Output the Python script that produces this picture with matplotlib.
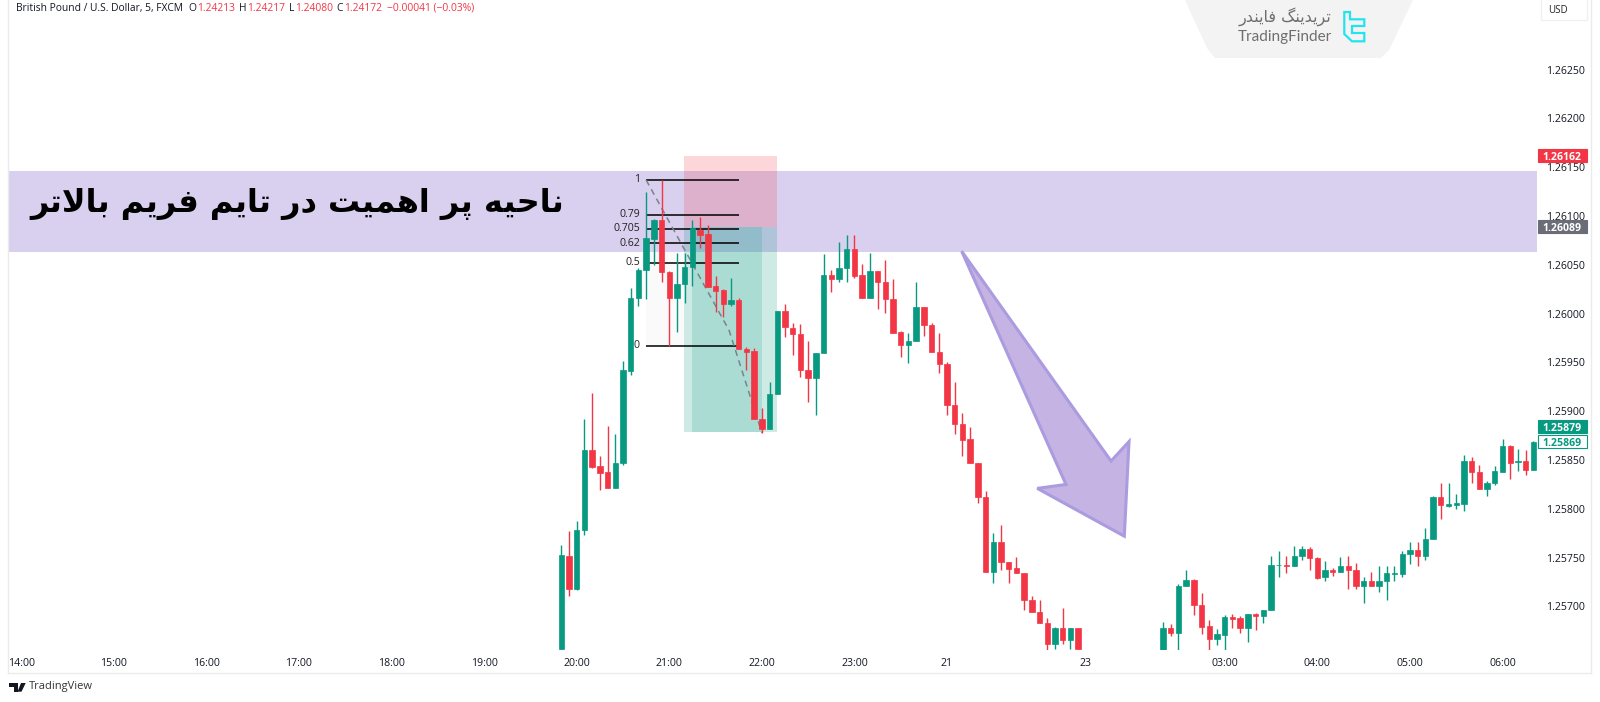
# -*- coding: utf-8 -*-
"""
GBP/USD 5 minute candles with a marked higher time frame zone
"""

import numpy as np
import matplotlib
matplotlib.use('Agg')
import matplotlib.pyplot as plt
from matplotlib.patches import Polygon, Rectangle
from matplotlib.transforms import blended_transform_factory

# Chart data

FIRST_SESSION_BARS = list(range(-2, 66))
SECOND_SESSION_BARS = list(range(76, 125))

OPENS = [
    1.25656, 1.25752, 1.25718, 1.25778, 1.25860, 1.25844, 1.25838, 1.25821,
    1.25847, 1.25941, 1.26016, 1.26045, 1.26077, 1.26096, 1.26043, 1.26016,
    1.26030, 1.26048, 1.26086, 1.26082, 1.26028, 1.26024, 1.26010, 1.26014,
    1.25964, 1.25962, 1.25892, 1.25882, 1.25918, 1.26003, 1.25985, 1.25979,
    1.25942, 1.25934, 1.25960, 1.26040, 1.26036, 1.26047, 1.26066, 1.26040,
    1.26016, 1.26044, 1.26032, 1.26015, 1.25981, 1.25968, 1.25972, 1.26007,
    1.25988, 1.25961, 1.25948, 1.25906, 1.25887, 1.25872, 1.25847, 1.25812,
    1.25735, 1.25766, 1.25746, 1.25739, 1.25734, 1.25707, 1.25694, 1.25683,
    1.25662, 1.25678, 1.25666, 1.25678,
    1.25655, 1.25678, 1.25673, 1.25721, 1.25727, 1.25702, 1.25680, 1.25667,
    1.25671, 1.25689, 1.25688, 1.25678, 1.25692, 1.25690, 1.25696, 1.25742,
    1.25743, 1.25741, 1.25752, 1.25759, 1.25750, 1.25730, 1.25737, 1.25735,
    1.25741, 1.25737, 1.25721, 1.25726, 1.25721, 1.25726, 1.25733, 1.25733,
    1.25754, 1.25758, 1.25752, 1.25769, 1.25812, 1.25803, 1.25804, 1.25805,
    1.25849, 1.25838, 1.25820, 1.25826, 1.25838, 1.25864, 1.25848, 1.25849,
    1.25840]
HIGHS = [
    1.25763, 1.25777, 1.25788, 1.25892, 1.25919, 1.25854, 1.25885, 1.25877,
    1.25952, 1.26026, 1.26047, 1.26125, 1.26097, 1.26137, 1.26044, 1.26062,
    1.26062, 1.26096, 1.26099, 1.26091, 1.26039, 1.26025, 1.26037, 1.26016,
    1.25966, 1.25965, 1.25903, 1.25930, 1.26003, 1.26010, 1.25990, 1.25989,
    1.25972, 1.25960, 1.26061, 1.26045, 1.26073, 1.26081, 1.26081, 1.26051,
    1.26062, 1.26044, 1.26055, 1.26036, 1.25982, 1.25980, 1.26032, 1.26007,
    1.25990, 1.25980, 1.25950, 1.25930, 1.25898, 1.25884, 1.25847, 1.25818,
    1.25775, 1.25783, 1.25746, 1.25751, 1.25734, 1.25711, 1.25707, 1.25688,
    1.25679, 1.25698, 1.25678, 1.25678,
    1.25684, 1.25682, 1.25723, 1.25737, 1.25728, 1.25714, 1.25686, 1.25677,
    1.25691, 1.25692, 1.25690, 1.25692, 1.25693, 1.25696, 1.25752, 1.25757,
    1.25752, 1.25762, 1.25762, 1.25761, 1.25751, 1.25747, 1.25739, 1.25751,
    1.25752, 1.25745, 1.25730, 1.25735, 1.25741, 1.25741, 1.25741, 1.25757,
    1.25766, 1.25766, 1.25780, 1.25813, 1.25827, 1.25826, 1.25815, 1.25855,
    1.25853, 1.25845, 1.25829, 1.25844, 1.25872, 1.25865, 1.25861, 1.25860,
    1.25870]
LOWS = [
    1.25656, 1.25711, 1.25717, 1.25773, 1.25842, 1.25819, 1.25821, 1.25821,
    1.25845, 1.25937, 1.26008, 1.26015, 1.26050, 1.26032, 1.25967, 1.25981,
    1.26011, 1.26028, 1.26067, 1.26027, 1.26002, 1.25997, 1.26008, 1.25964,
    1.25942, 1.25892, 1.25878, 1.25882, 1.25918, 1.25976, 1.25958, 1.25935,
    1.25909, 1.25896, 1.25960, 1.26022, 1.26032, 1.26032, 1.26037, 1.26016,
    1.26016, 1.26005, 1.26001, 1.25980, 1.25956, 1.25949, 1.25972, 1.25977,
    1.25961, 1.25939, 1.25896, 1.25877, 1.25854, 1.25847, 1.25806, 1.25735,
    1.25724, 1.25737, 1.25724, 1.25734, 1.25696, 1.25694, 1.25683, 1.25655,
    1.25656, 1.25662, 1.25656, 1.25656,
    1.25655, 1.25670, 1.25655, 1.25721, 1.25691, 1.25672, 1.25655, 1.25661,
    1.25655, 1.25678, 1.25673, 1.25664, 1.25676, 1.25683, 1.25696, 1.25730,
    1.25734, 1.25741, 1.25748, 1.25737, 1.25728, 1.25726, 1.25731, 1.25735,
    1.25718, 1.25718, 1.25704, 1.25721, 1.25715, 1.25707, 1.25726, 1.25730,
    1.25744, 1.25741, 1.25748, 1.25769, 1.25790, 1.25802, 1.25800, 1.25798,
    1.25826, 1.25820, 1.25813, 1.25824, 1.25838, 1.25831, 1.25839, 1.25835,
    1.25840]
CLOSES = [
    1.25753, 1.25718, 1.25778, 1.25860, 1.25843, 1.25837, 1.25821, 1.25847,
    1.25942, 1.26016, 1.26045, 1.26078, 1.26096, 1.26043, 1.26016, 1.26030,
    1.26048, 1.26088, 1.26081, 1.26027, 1.26023, 1.26010, 1.26014, 1.25964,
    1.25961, 1.25892, 1.25882, 1.25918, 1.26003, 1.25986, 1.25979, 1.25942,
    1.25934, 1.25960, 1.26040, 1.26036, 1.26047, 1.26066, 1.26039, 1.26016,
    1.26044, 1.26032, 1.26015, 1.25980, 1.25968, 1.25972, 1.26007, 1.25988,
    1.25961, 1.25948, 1.25906, 1.25887, 1.25871, 1.25847, 1.25812, 1.25735,
    1.25766, 1.25746, 1.25738, 1.25734, 1.25707, 1.25694, 1.25683, 1.25662,
    1.25678, 1.25666, 1.25678, 1.25656,
    1.25678, 1.25673, 1.25721, 1.25727, 1.25702, 1.25679, 1.25667, 1.25672,
    1.25689, 1.25687, 1.25678, 1.25692, 1.25690, 1.25696, 1.25742, 1.25743,
    1.25741, 1.25752, 1.25759, 1.25750, 1.25729, 1.25737, 1.25735, 1.25741,
    1.25737, 1.25721, 1.25726, 1.25721, 1.25726, 1.25734, 1.25734, 1.25754,
    1.25758, 1.25752, 1.25769, 1.25812, 1.25804, 1.25805, 1.25806, 1.25849,
    1.25838, 1.25820, 1.25826, 1.25839, 1.25864, 1.25847, 1.25849, 1.25840,
    1.25869]

PRICE_TICKS = [1.26250, 1.26200, 1.26150, 1.26100, 1.26050, 1.26000,
               1.25950, 1.25900, 1.25850, 1.25800, 1.25750, 1.25700]
TIME_TICK_BARS = [-72, -60, -48, -36, -24, -12, 0, 12, 24, 36, 48, 66,
                  84, 96, 108, 120]
TIME_TICK_LABELS = ['14:00', '15:00', '16:00', '17:00', '18:00', '19:00',
                    '20:00', '21:00', '22:00', '23:00', '21', '23',
                    '03:00', '04:00', '05:00', '06:00']

# Drawn objects on the chart

ZONE_TOP = 1.261465
ZONE_BOTTOM = 1.260636
STOP_PRICE = 1.26162
ENTRY_PRICE = 1.26089
TARGET_PRICE = 1.25879
POSITION_BARS = (13.9, 26)
POSITION_CORE_BARS = (15, 24)

FIB_HIGH = 1.26137
FIB_LOW = 1.25967
FIB_LEVELS = [1, 0.79, 0.705, 0.62, 0.5, 0]
FIB_BARS = (9, 21)

SWING_BARS = [9, 19.75, 24]
SWING_PRICES = [1.26137, 1.25983, 1.25878]

ARROW_BARS = [49.9, 69.26, 71.59, 70.98, 59.70, 63.42]
ARROW_PRICES = [1.26064, 1.25849, 1.25869, 1.25772, 1.25821, 1.25825]

TITLE = 'ناحیه پر اهمیت در تایم فریم بالاتر'
BRAND = 'تریدینگ فایندر'

# Colours

UP_COLOUR = '#089981'
DOWN_COLOUR = '#f23645'
GRID_LINE = '#ebebeb'

# Presentation forms: isolated, final, initial, medial

LETTER_FORMS = {
    'ا': '\ufe8d\ufe8e', 'د': '\ufea9\ufeaa', 'ر': '\ufead\ufeae',
    'ب': '\ufe8f\ufe90\ufe91\ufe92', 'پ': '\ufb56\ufb57\ufb58\ufb59',
    'ت': '\ufe95\ufe96\ufe97\ufe98', 'ح': '\ufea1\ufea2\ufea3\ufea4',
    'ف': '\ufed1\ufed2\ufed3\ufed4', 'گ': '\ufb92\ufb93\ufb94\ufb95',
    'ل': '\ufedd\ufede\ufedf\ufee0', 'م': '\ufee1\ufee2\ufee3\ufee4',
    'ن': '\ufee5\ufee6\ufee7\ufee8', 'ه': '\ufee9\ufeea\ufeeb\ufeec',
    'ی': '\ufbfc\ufbfd\ufbfe\ufbff'}


def shape_persian(text):
    """Returns text as joined letter forms in drawing order, since
    matplotlib neither joins Arabic script nor runs it right to left
    text (string)
    """
    shaped = []
    position = 0
    while position < len(text):
        letter = text[position]
        previous = text[position - 1] if position > 0 else ' '
        following = text[position + 1] if position + 1 < len(text) else ' '
        joins_back = len(LETTER_FORMS.get(previous, '')) == 4
        if letter == ' ':
            shaped.append(letter)
        elif letter == 'ل' and following == 'ا':
            shaped.append('\ufefc' if joins_back else '\ufefb')
            position += 1
        else:
            forms = LETTER_FORMS[letter]
            joins_next = len(forms) == 4 and following in LETTER_FORMS
            if joins_back:
                shaped.append(forms[3] if joins_next else forms[1])
            else:
                shaped.append(forms[2] if joins_next else forms[0])
        position += 1
    return ''.join(reversed(shaped))


def price_label(chart, transform, price, text, colours):
    """Draws one boxed price on the price scale
    chart (Axes), transform, price (float), text (string),
    colours (tuple of face, edge and text colour)
    """
    chart.add_patch(Rectangle((1538, price - 0.000066), 48.7, 0.000132,
                              transform=transform, fc=colours[0],
                              ec=colours[1], lw=0.8, clip_on=False, zorder=6))
    chart.text(1562.3, price, text, transform=transform, ha='center',
               va='center_baseline', color=colours[2], fontsize=7.6,
               weight='bold', clip_on=False, zorder=7)


# Main code

plt.rcParams['font.family'] = ['Open Sans', 'DejaVu Sans']

FIGURE = plt.figure(figsize=(16, 7.02), dpi=100, facecolor='white')
AXES = FIGURE.add_axes([9 / 1600, 52 / 702, 1528 / 1600, 650 / 702])
CHROME = FIGURE.add_axes([0, 0, 1, 1], zorder=5)
CHROME.set_xlim(0, 1600)
CHROME.set_ylim(702, 0)
CHROME.axis('off')
CHROME.patch.set_visible(False)

AXES.set_xlim(-73.58, 124.47)
AXES.set_ylim(1.256554, 1.263214)
for SPINE in AXES.spines.values():
    SPINE.set_visible(False)
AXES.yaxis.tick_right()
AXES.set_yticks(PRICE_TICKS, ['{:.5f}'.format(tick) for tick in PRICE_TICKS])
AXES.set_xticks(TIME_TICK_BARS, TIME_TICK_LABELS)
AXES.tick_params(axis='y', length=0, pad=6.5, labelsize=7.6,
                 labelcolor='#131722')
AXES.tick_params(axis='x', length=0, pad=6, labelsize=7.6,
                 labelcolor='#131722')

# zone and position boxes sit under the candles
AXES.axhspan(ZONE_BOTTOM, ZONE_TOP, color='#d9cfee', lw=0, zorder=1)
AXES.fill_between([9, POSITION_BARS[0]], FIB_LOW, ZONE_BOTTOM,
                  color='#fafafa', lw=0, zorder=1)
AXES.fill_between(POSITION_BARS, ENTRY_PRICE, STOP_PRICE,
                  color='#f23645', alpha=0.2, lw=0, zorder=2)
AXES.fill_between(POSITION_BARS, TARGET_PRICE, ENTRY_PRICE,
                  color='#089981', alpha=0.2, lw=0, zorder=2)
AXES.fill_between(POSITION_CORE_BARS, TARGET_PRICE, ENTRY_PRICE,
                  color='#089981', alpha=0.17, lw=0, zorder=2)

# fibonacci levels and swing line
for LEVEL in FIB_LEVELS:
    LEVEL_PRICE = FIB_LOW + LEVEL * (FIB_HIGH - FIB_LOW)
    AXES.plot(FIB_BARS, (LEVEL_PRICE, LEVEL_PRICE), c='black', lw=1.1,
              solid_capstyle='butt', zorder=3)
    AXES.text(FIB_BARS[0] - 0.8, LEVEL_PRICE, '{:g}'.format(LEVEL),
              ha='right', va='center', fontsize=7.6, color='#222222',
              zorder=3)
AXES.plot(SWING_BARS, SWING_PRICES, c='#78848a', lw=1.1, dashes=[4, 3],
          zorder=3)

# candles
BARS = np.array(FIRST_SESSION_BARS + SECOND_SESSION_BARS)
OPEN_PRICES = np.array(OPENS)
CLOSE_PRICES = np.array(CLOSES)
CANDLE_COLOURS = np.where(CLOSE_PRICES >= OPEN_PRICES, UP_COLOUR, DOWN_COLOUR)
AXES.vlines(BARS, LOWS, HIGHS, colors=CANDLE_COLOURS, lw=1.0, zorder=4)
AXES.bar(BARS, np.abs(CLOSE_PRICES - OPEN_PRICES),
         bottom=np.minimum(OPEN_PRICES, CLOSE_PRICES), width=0.7,
         color=CANDLE_COLOURS, edgecolor=CANDLE_COLOURS, lw=0.5, zorder=4)

# arrow
AXES.add_patch(Polygon(np.column_stack((ARROW_BARS, ARROW_PRICES)),
                       closed=True, fc='#c4b3e3', ec='#ab9bdf', lw=2.2,
                       joinstyle='miter', zorder=5))

# price scale labels
PRICE_TRANSFORM = blended_transform_factory(CHROME.transData, AXES.transData)
price_label(AXES, PRICE_TRANSFORM, STOP_PRICE, '1.26162',
            ('#f23645', '#f23645', 'white'))
price_label(AXES, PRICE_TRANSFORM, ENTRY_PRICE, '1.26089',
            ('#6a6d78', '#6a6d78', 'white'))
# this one is pushed up a little by the label below it
price_label(AXES, PRICE_TRANSFORM, TARGET_PRICE + 0.00005, '1.25879',
            ('#089981', '#089981', 'white'))
price_label(AXES, PRICE_TRANSFORM, CLOSES[-1], '1.25869',
            ('white', '#089981', '#089981'))

# title over the zone
CHROME.text(297.5, 204, shape_persian(TITLE), family='DejaVu Sans',
            weight='bold', fontsize=23, ha='center', va='center',
            color='black', zorder=7)

# page furniture
CHROME.plot((8, 8), (0, 672.7), c=GRID_LINE, lw=1)
CHROME.plot((1590.7, 1590.7), (0, 672.7), c=GRID_LINE, lw=1)
CHROME.plot((8, 1590.7), (672.7, 672.7), c=GRID_LINE, lw=1)

# header line
HEADER_GREY = '#131722'
HEADER_RED = '#f23645'
CHROME.text(15.7, 8.3, 'British Pound / U.S. Dollar, 5, FXCM', fontsize=7.4,
            va='center', color=HEADER_GREY)
for LETTER_X, LETTER, VALUE_X, VALUE in [(188.7, 'O', 196.7, '1.24213'),
                                         (238.7, 'H', 246.7, '1.24217'),
                                         (288.7, 'L', 294.7, '1.24080'),
                                         (336.7, 'C', 344.4, '1.24172')]:
    CHROME.text(LETTER_X, 8.3, LETTER, fontsize=7.4, va='center',
                color=HEADER_GREY)
    CHROME.text(VALUE_X, 8.3, VALUE, fontsize=7.4, va='center',
                color=HEADER_RED)
CHROME.text(386.7, 8.3, '\u22120.00041 (\u22120.03%)', fontsize=7.4,
            va='center', color=HEADER_RED)

# currency box
CHROME.add_patch(Rectangle((1540.7, -2), 46.3, 22, fc='white', ec='#f0f0f0',
                           lw=1))
CHROME.text(1548.5, 10.5, 'USD', fontsize=7, va='center', color='#222222')

# logo tab at the top
CHROME.add_patch(Polygon([(1185, 0), (1207, 48), (1215, 58), (1381, 58),
                          (1389, 50), (1413, 0)], closed=True, fc='#f3f3f3',
                         ec='none', zorder=1))
CHROME.text(1331.5, 17, shape_persian(BRAND), family='DejaVu Sans',
            fontsize=11.5, ha='right', va='center', color='#6e6e6e', zorder=2)
CHROME.text(1331.5, 37, 'TradingFinder', family='Lato', fontsize=11,
            ha='right', va='center', color='#6e6e6e', zorder=2)
CHROME.add_patch(Polygon([(1344.3, 12), (1350, 12), (1350, 19.3),
                          (1364.3, 19.3), (1364.3, 26), (1352, 26), (1352, 33),
                          (1364.3, 33), (1364.3, 41.3), (1352, 41.3),
                          (1344.3, 34)], closed=True, fc='none', ec='#22e3f0',
                         lw=1.6, zorder=2))

# TradingView mark at the bottom
CHROME.add_patch(Polygon([(8.7, 683), (18, 683), (18, 691.7), (14, 691.7),
                          (14, 686.5), (8.7, 686.5)], closed=True, fc='#131722',
                         ec='none'))
CHROME.add_patch(Polygon([(21, 683), (25.7, 683), (21.5, 691.7), (17.5, 691.7)],
                         closed=True, fc='#131722', ec='none'))
CHROME.text(29.3, 687, 'TradingView', fontsize=8, va='center', color='#333333')

plt.savefig('out.png', dpi=100)
